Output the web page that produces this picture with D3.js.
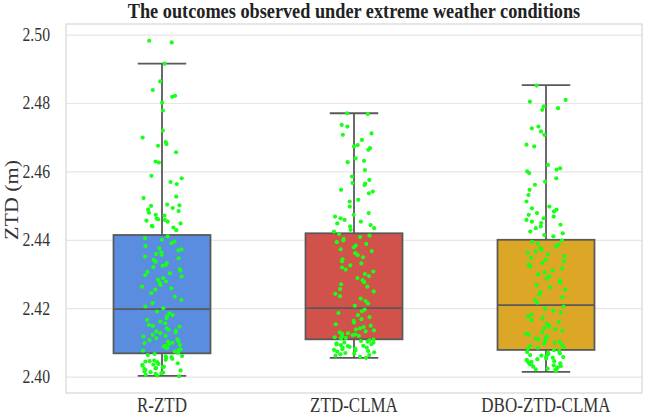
<!DOCTYPE html>
<html>
<head>
<meta charset="utf-8">
<script src="https://cdn.jsdelivr.net/npm/d3@7"></script>
<style>
  html, body { margin: 0; padding: 0; background: #fff; }
  svg text { font-family: "Liberation Serif", "Times New Roman", serif; }
</style>
</head>
<body>
<svg id="chart" width="645" height="417"></svg>
<script>
// categories and box statistics
const categories = ['R-ZTD', 'ZTD-CLMA', 'DBO-ZTD-CLMA'];
const boxColors = ['#5a8ddf', '#d0524a', '#dca726'];
const q1 = [2.4068, 2.4109, 2.4078];
const median = [2.4197, 2.4200, 2.4209];
const q3 = [2.4414, 2.4419, 2.4400];
const whiskerLow = [2.4002, 2.4055, 2.4014];
const whiskerHigh = [2.4915, 2.4770, 2.4852];
const yTicks = [2.40, 2.42, 2.44, 2.46, 2.48, 2.50];

// observed ZTD values (m), one list per method
const rZtd = [
  2.4982, 2.4977, 2.4915, 2.4863, 2.4838, 2.4821, 2.4818, 2.4801, 2.4778, 2.4719,
  2.4699, 2.4686, 2.4680, 2.4675, 2.4656, 2.4629, 2.4626, 2.4587, 2.4580, 2.4569,
  2.4563, 2.4526, 2.4522, 2.4503, 2.4501, 2.4499, 2.4493, 2.4488, 2.4484, 2.4479,
  2.4473, 2.4471, 2.4462, 2.4460, 2.4458, 2.4456, 2.4453, 2.4448, 2.4441, 2.4439,
  2.4436, 2.4428,
  2.4410, 2.4405, 2.4400, 2.4395, 2.4390, 2.4382, 2.4375, 2.4372, 2.4369, 2.4363,
  2.4359, 2.4356, 2.4351, 2.4346, 2.4341, 2.4336, 2.4332, 2.4327, 2.4324, 2.4320,
  2.4314, 2.4310, 2.4306, 2.4302, 2.4297, 2.4293, 2.4288, 2.4283, 2.4278, 2.4273,
  2.4268, 2.4263, 2.4258, 2.4254, 2.4244, 2.4234, 2.4224, 2.4215, 2.4205, 2.4200,
  2.4190, 2.4185, 2.4180, 2.4176, 2.4171, 2.4166, 2.4161, 2.4156, 2.4151, 2.4148,
  2.4146, 2.4141, 2.4137, 2.4134, 2.4132, 2.4129, 2.4127, 2.4122, 2.4119, 2.4117,
  2.4112, 2.4109, 2.4107, 2.4104, 2.4102, 2.4099, 2.4098, 2.4095, 2.4093, 2.4090,
  2.4088, 2.4085, 2.4083, 2.4080, 2.4078, 2.4076, 2.4073, 2.4070,
  2.4066, 2.4063, 2.4060, 2.4059, 2.4057, 2.4054, 2.4052, 2.4049, 2.4047, 2.4045,
  2.4044, 2.4042, 2.4039, 2.4037, 2.4035, 2.4034, 2.4032, 2.4029, 2.4027, 2.4025,
  2.4024, 2.4022, 2.4020, 2.4018, 2.4015, 2.4013, 2.4012, 2.4010, 2.4008, 2.4005,
  2.4003, 2.4001
];
const ztdClma = [
  2.4770, 2.4768, 2.4736, 2.4731, 2.4711, 2.4707, 2.4692, 2.4677, 2.4673, 2.4668,
  2.4663, 2.4638, 2.4631, 2.4627, 2.4604, 2.4585, 2.4575, 2.4566, 2.4564, 2.4560,
  2.4546, 2.4541, 2.4536, 2.4517, 2.4512, 2.4497, 2.4478, 2.4473, 2.4468, 2.4463,
  2.4458, 2.4453, 2.4448, 2.4443, 2.4439, 2.4434, 2.4429, 2.4424,
  2.4417, 2.4412, 2.4408, 2.4403, 2.4398, 2.4393, 2.4388, 2.4383, 2.4378, 2.4372,
  2.4367, 2.4361, 2.4355, 2.4349, 2.4343, 2.4337, 2.4331, 2.4325, 2.4319, 2.4313,
  2.4307, 2.4300, 2.4294, 2.4288, 2.4282, 2.4276, 2.4270, 2.4263, 2.4256, 2.4249,
  2.4242, 2.4235, 2.4228, 2.4221, 2.4214, 2.4207,
  2.4196, 2.4191, 2.4186, 2.4180, 2.4174, 2.4168, 2.4163, 2.4158, 2.4153, 2.4149,
  2.4145, 2.4141, 2.4138, 2.4135, 2.4132, 2.4129, 2.4127, 2.4125, 2.4123, 2.4121,
  2.4119, 2.4117, 2.4115, 2.4113, 2.4111,
  2.4108, 2.4106, 2.4104, 2.4102, 2.4100, 2.4099, 2.4097, 2.4095, 2.4094, 2.4092,
  2.4090, 2.4089, 2.4087, 2.4085, 2.4084, 2.4082, 2.4080, 2.4078, 2.4077, 2.4075,
  2.4073, 2.4071, 2.4069, 2.4067, 2.4065, 2.4063, 2.4061, 2.4058, 2.4055
];
const dboZtdClma = [
  2.4851, 2.4809, 2.4804, 2.4790, 2.4785, 2.4780, 2.4731, 2.4726, 2.4717, 2.4707,
  2.4678, 2.4673, 2.4619, 2.4609, 2.4605, 2.4600, 2.4595, 2.4580, 2.4570, 2.4561,
  2.4546, 2.4531, 2.4512, 2.4497, 2.4492, 2.4488, 2.4483, 2.4478, 2.4473, 2.4468,
  2.4463, 2.4458, 2.4453, 2.4449, 2.4444, 2.4439, 2.4434, 2.4424, 2.4419, 2.4414,
  2.4410,
  2.4398, 2.4394, 2.4389, 2.4385, 2.4380, 2.4376, 2.4371, 2.4366, 2.4362, 2.4357,
  2.4352, 2.4347, 2.4342, 2.4337, 2.4332, 2.4327, 2.4322, 2.4316, 2.4311, 2.4305,
  2.4299, 2.4293, 2.4287, 2.4281, 2.4275, 2.4268, 2.4261, 2.4254, 2.4247, 2.4240,
  2.4232, 2.4224, 2.4216,
  2.4205, 2.4199, 2.4193, 2.4187, 2.4181, 2.4175, 2.4170, 2.4165, 2.4160, 2.4155,
  2.4150, 2.4146, 2.4142, 2.4138, 2.4134, 2.4130, 2.4126, 2.4122, 2.4118, 2.4114,
  2.4111, 2.4108, 2.4105, 2.4102, 2.4099, 2.4096, 2.4093, 2.4090, 2.4087, 2.4084,
  2.4082,
  2.4077, 2.4075, 2.4072, 2.4070, 2.4068, 2.4066, 2.4063, 2.4061, 2.4059, 2.4057,
  2.4055, 2.4053, 2.4051, 2.4049, 2.4047, 2.4045, 2.4043, 2.4041, 2.4039, 2.4037,
  2.4035, 2.4033, 2.4031, 2.4029, 2.4027, 2.4025, 2.4023, 2.4021, 2.4019, 2.4016
];
const seriesValues = [rZtd, ztdClma, dboZtdClma];

const svg = d3.select('#chart');
const plot = { left: 66, right: 642, top: 24, bottom: 393 };
const serif = '"Liberation Serif", "Times New Roman", serif';
// the reference text is horizontally condensed
const squeeze = 0.85;

const x = d3.scaleBand()
  .domain(categories)
  .range([plot.left, plot.right])
  .padding(0);

const y = d3.scaleLinear()
  .domain([2.3952, 2.5031])
  .range([plot.bottom, plot.top]);

// title
const titleX = (plot.left + plot.right) / 2;
svg.append('text')
  .attr('transform', `translate(${titleX},18) scale(${squeeze},1)`)
  .attr('text-anchor', 'middle')
  .attr('font-size', 21.5)
  .attr('font-weight', 'bold')
  .attr('fill', '#222')
  .text('The outcomes observed under extreme weather conditions');

// grid + y ticks
const tickPad = 16;
svg.append('g')
  .attr('transform', `translate(${plot.left},0)`)
  .attr('font-family', serif)
  .call(d3.axisLeft(y).tickValues(yTicks).tickFormat(d3.format('.2f'))
    .tickSize(-(plot.right - plot.left)).tickPadding(tickPad))
  .call(g => g.select('.domain').remove())
  .call(g => g.selectAll('.tick line').attr('stroke', '#e6e6e6').attr('stroke-width', 1.2))
  .call(g => g.selectAll('.tick text')
    .attr('font-size', 18.5).attr('fill', '#333')
    .attr('x', -tickPad / squeeze)
    .attr('transform', `scale(${squeeze},1)`));

// x labels
svg.append('g')
  .attr('transform', `translate(0,${plot.bottom})`)
  .attr('font-family', serif)
  .call(d3.axisBottom(x).tickSize(0).tickPadding(5))
  .call(g => g.select('.domain').remove())
  .call(g => g.selectAll('.tick text')
    .attr('font-size', 20).attr('fill', '#333')
    .attr('transform', `scale(${squeeze},1)`));

// frame
svg.append('rect')
  .attr('x', plot.left)
  .attr('y', plot.top)
  .attr('width', plot.right - plot.left)
  .attr('height', plot.bottom - plot.top)
  .attr('fill', 'none')
  .attr('stroke', '#d6d6d6')
  .attr('stroke-width', 1.2);

// y label
svg.append('text')
  .attr('transform', `translate(18,200) scale(${squeeze},1) rotate(-90)`)
  .attr('text-anchor', 'middle')
  .attr('font-size', 22)
  .attr('fill', '#333')
  .text('ZTD (m)');

// boxes
const boxW = x.bandwidth() * 0.505;
const capW = boxW * 0.5;
const edge = '#595959';

const boxes = svg.append('g')
  .selectAll('g')
  .data(categories)
  .join('g');

boxes.append('line')
  .attr('x1', d => x(d) + x.bandwidth() / 2)
  .attr('x2', d => x(d) + x.bandwidth() / 2)
  .attr('y1', (d, i) => y(whiskerHigh[i]))
  .attr('y2', (d, i) => y(q3[i]))
  .attr('stroke', edge).attr('stroke-width', 1.8);

boxes.append('line')
  .attr('x1', d => x(d) + x.bandwidth() / 2)
  .attr('x2', d => x(d) + x.bandwidth() / 2)
  .attr('y1', (d, i) => y(q1[i]))
  .attr('y2', (d, i) => y(whiskerLow[i]))
  .attr('stroke', edge).attr('stroke-width', 1.8);

[whiskerHigh, whiskerLow].forEach(arr => {
  boxes.append('line')
    .attr('x1', d => x(d) + x.bandwidth() / 2 - capW / 2)
    .attr('x2', d => x(d) + x.bandwidth() / 2 + capW / 2)
    .attr('y1', (d, i) => y(arr[i]))
    .attr('y2', (d, i) => y(arr[i]))
    .attr('stroke', edge).attr('stroke-width', 1.8);
});

boxes.append('rect')
  .attr('x', d => x(d) + (x.bandwidth() - boxW) / 2)
  .attr('width', boxW)
  .attr('y', (d, i) => y(q3[i]))
  .attr('height', (d, i) => y(q1[i]) - y(q3[i]))
  .attr('fill', (d, i) => boxColors[i])
  .attr('stroke', edge)
  .attr('stroke-width', 1.8);

boxes.append('line')
  .attr('x1', d => x(d) + (x.bandwidth() - boxW) / 2)
  .attr('x2', d => x(d) + (x.bandwidth() + boxW) / 2)
  .attr('y1', (d, i) => y(median[i]))
  .attr('y2', (d, i) => y(median[i]))
  .attr('stroke', edge).attr('stroke-width', 1.8);

// strip points, spread sideways with a fixed hash of the index (no randomness)
const jitterHalf = x.bandwidth() * 0.105;
const spread = k => {
  const s = Math.sin(k * 12.9898 + 78.233) * 43758.5453;
  return s - Math.floor(s);
};
const points = [];
categories.forEach((c, ci) => {
  seriesValues[ci].forEach((v, i) => {
    points.push({ cat: c, value: v, off: (spread(i + ci * 500) - 0.5) * 2 * jitterHalf });
  });
});

svg.append('g')
  .selectAll('circle')
  .data(points)
  .join('circle')
  .attr('cx', d => x(d.cat) + x.bandwidth() / 2 + d.off)
  .attr('cy', d => y(d.value))
  .attr('r', 2.1)
  .attr('fill', '#1aff1a');
</script>
</body>
</html>
